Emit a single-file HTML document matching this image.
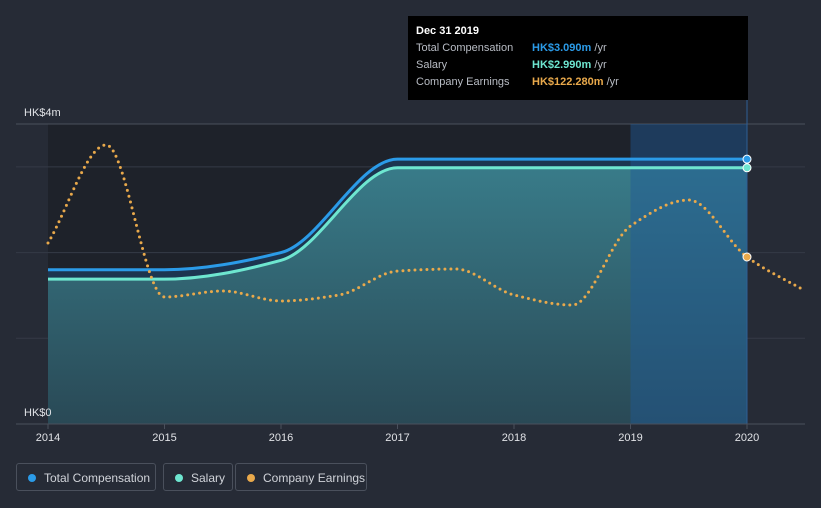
<!DOCTYPE html>
<html><head><meta charset="utf-8"><style>
html,body{margin:0;padding:0;background:#262b36;width:821px;height:508px;overflow:hidden;font-family:"Liberation Sans",sans-serif}
.legend{position:absolute;top:463px;height:28px;border:1px solid #4a505c;border-radius:3px;color:#d0d3d9;font-size:12px;line-height:28px;box-sizing:border-box;padding-left:27px}
.legend i{position:absolute;left:11px;top:10px;width:8px;height:8px;border-radius:50%}
</style></head><body>
<svg id="chart" width="821" height="508" style="position:absolute;left:0;top:0">
<defs>
<linearGradient id="ag" x1="0" y1="0" x2="0" y2="1"><stop offset="0" stop-color="#3a7f8c" stop-opacity="0.95"/><stop offset="1" stop-color="#2a4a56" stop-opacity="0.95"/></linearGradient>
</defs>
<rect x="48" y="124" width="699" height="300" fill="#1e222a"/>
<g id="grid"></g>
<g id="area"></g>
<rect id="hl" fill="#1f5b9a" opacity="0.45"/>
<g id="lines"></g>
<g id="axis"></g>
</svg>
<div style="position:absolute;left:408px;top:16px;width:340px;height:84px;background:#000;color:#fff;font-size:11px">
<div style="position:absolute;left:8px;top:9px;font-weight:bold">Dec 31 2019</div>
<div style="position:absolute;left:8px;top:26px;color:#b8bcc4">Total Compensation</div><div style="position:absolute;left:124px;top:26px"><b style="color:#2b9be8">HK$3.090m</b> <span style="color:#b8bcc4">/yr</span></div>
<div style="position:absolute;left:8px;top:43px;color:#b8bcc4">Salary</div><div style="position:absolute;left:124px;top:43px"><b style="color:#6ee6d0">HK$2.990m</b> <span style="color:#b8bcc4">/yr</span></div>
<div style="position:absolute;left:8px;top:60px;color:#b8bcc4">Company Earnings</div><div style="position:absolute;left:124px;top:60px"><b style="color:#e9a94b">HK$122.280m</b> <span style="color:#b8bcc4">/yr</span></div>
</div>
<div class="legend" style="left:16px;width:140px"><i style="background:#2b9be8"></i>Total Compensation</div>
<div class="legend" style="left:163px;width:70px"><i style="background:#6ee6d0"></i>Salary</div>
<div class="legend" style="left:235px;width:132px"><i style="background:#e9a94b"></i>Company Earnings</div>
<script>
const compYears=[2014,2015,2016,2017,2018,2019,2020];
const totalComp=[1.80,1.80,2.00,3.09,3.09,3.09,3.09];
const salary=[1.69,1.69,1.91,2.99,2.99,2.99,2.99];
const earnYears=[2014,2014.5,2015,2015.5,2016,2016.5,2017,2017.5,2018,2018.5,2019,2019.5,2020,2020.5];
const earnings=[132.5,204.3,93.0,97.4,90.1,94.5,112.0,113.5,94.5,87.1,145.0,164.0,122.28,97.4];
const yTicks=[0,1,2,3];
const xTicks=[2014,2015,2016,2017,2018,2019,2020];
const yLabels=["HK$0","HK$4m"];
const NS="http://www.w3.org/2000/svg";
const x=v=>48+(v-2014)*116.5;
const y=v=>424-v*85.7;
const ye=v=>424-v*1.3657;
function mk(t,a,p){const e=document.createElementNS(NS,t);for(const k in a)e.setAttribute(k,a[k]);p.appendChild(e);return e;}
function mono(px,py){const n=px.length,d=[],m=[];for(let i=0;i<n-1;i++)d.push((py[i+1]-py[i])/(px[i+1]-px[i]));
m[0]=d[0];m[n-1]=d[n-2];for(let i=1;i<n-1;i++){m[i]=d[i-1]*d[i]<=0?0:3*(d[i-1]+d[i])/( (2*d[i]+d[i-1])/d[i-1]*0+ (d[i-1]+d[i])*0+ (1/d[i-1]+1/d[i])*(d[i-1]+d[i])/2*0+ 3)*0+ (2/(1/d[i-1]+1/d[i]));}
let s="M"+px[0]+","+py[0];for(let i=0;i<n-1;i++){const h=(px[i+1]-px[i])/3;s+=" C"+(px[i]+h)+","+(py[i]+m[i]*h)+" "+(px[i+1]-h)+","+(py[i+1]-m[i+1]*h)+" "+px[i+1]+","+py[i+1];}return s;}
const g=document.getElementById('grid'),ar=document.getElementById('area'),ln=document.getElementById('lines'),ax=document.getElementById('axis');
let e=mk('line',{x1:16,x2:805,y1:124,y2:124,stroke:'#4a505c'},g);

yTicks.forEach(t=>{if(t===0)return;const l=mk('line',{x1:16,x2:805,y1:y(t),y2:y(t),stroke:'#353b47'},g);
});
const cx=compYears.map(x),ty=totalComp.map(y),sy=salary.map(y);
const tp=mono(cx,ty),sp=mono(cx,sy);
e=mk('path',{d:tp+" L"+x(2020)+",424 L"+x(2014)+",424 Z",fill:'#1c3550'},ar);

e=mk('path',{d:sp+" L"+x(2020)+",424 L"+x(2014)+",424 Z",fill:'url(#ag)'},ar);

const hl=document.getElementById('hl');hl.setAttribute('x',x(2019));hl.setAttribute('y',124);hl.setAttribute('width',x(2020)-x(2019));hl.setAttribute('height',300);
e=mk('line',{x1:x(2020),x2:x(2020),y1:100,y2:424,stroke:'#2f5f95','stroke-width':1},ln);

e=mk('path',{d:tp,fill:'none',stroke:'#2b9be8','stroke-width':3},ln);

e=mk('path',{d:sp,fill:'none',stroke:'#6ee6d0','stroke-width':3},ln);

const ep=mono(earnYears.map(x),earnings.map(ye));
e=mk('path',{d:ep,fill:'none',stroke:'#e9a94b','stroke-width':3,'stroke-dasharray':'0 6','stroke-linecap':'round'},ln);

const li=compYears.length-1;
e=mk('circle',{cx:x(compYears[li]),cy:y(totalComp[li]),r:4,fill:'#2b9be8',stroke:'#fff','stroke-width':1},ln);

e=mk('circle',{cx:x(compYears[li]),cy:y(salary[li]),r:4,fill:'#6ee6d0',stroke:'#fff','stroke-width':1},ln);

e=mk('circle',{cx:x(2020),cy:ye(earnings[earnYears.indexOf(2020)]),r:4,fill:'#e9a94b',stroke:'#fff','stroke-width':1},ln);

e=mk('line',{x1:16,x2:805,y1:424,y2:424,stroke:'#4a505c'},ax);

xTicks.forEach(t=>{const l=mk('line',{x1:x(t),x2:x(t),y1:424,y2:429,stroke:'#4a505c'},ax);

const tx=mk('text',{x:x(t),y:441,fill:'#e0e2e6','font-size':11,'text-anchor':'middle'},ax);tx.textContent=t;
});
let t0=mk('text',{x:24,y:416,fill:'#e0e2e6','font-size':11},ax);t0.textContent=yLabels[0];

let t1=mk('text',{x:24,y:116,fill:'#e0e2e6','font-size':11},ax);t1.textContent=yLabels[1];

</script>
</body></html>
